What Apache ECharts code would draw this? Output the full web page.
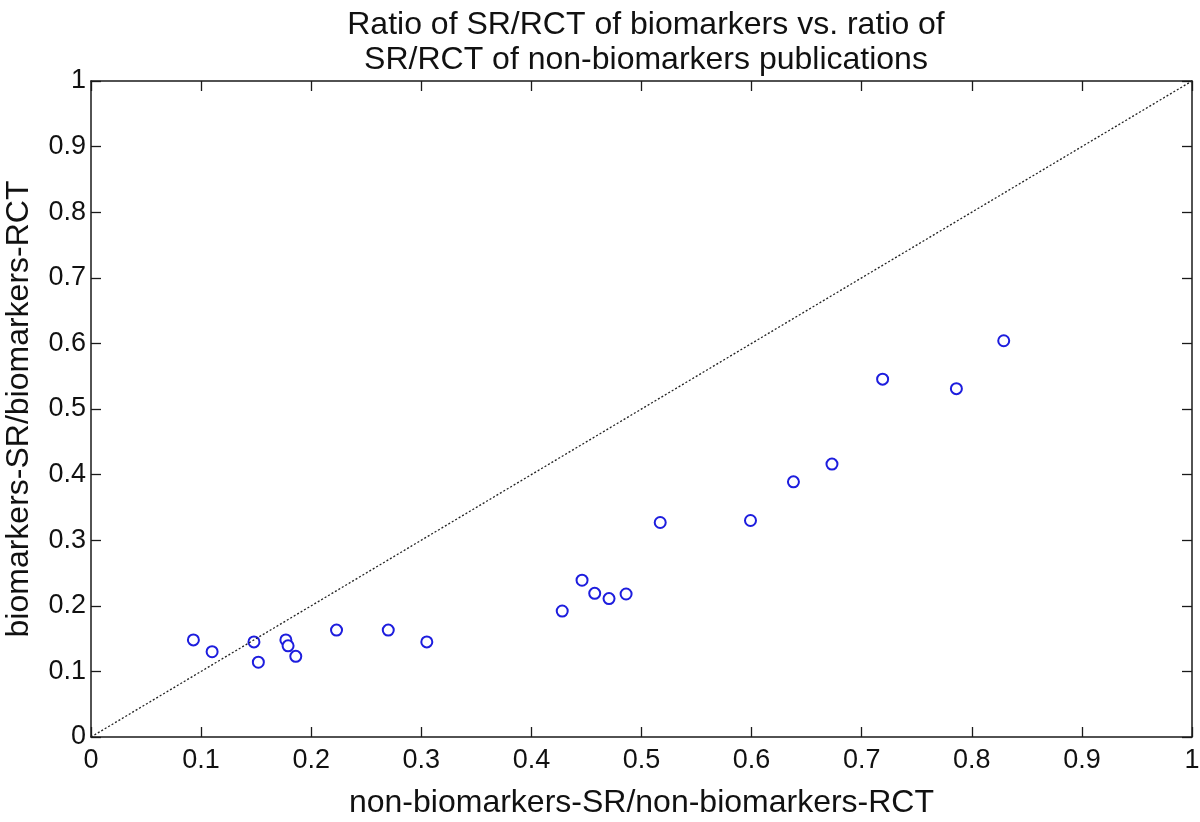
<!DOCTYPE html>
<html>
<head>
<meta charset="utf-8">
<script src="https://cdn.jsdelivr.net/npm/echarts@6/dist/echarts.min.js"></script>
<style>
html,body{margin:0;padding:0;background:#fff;}
#c{width:1200px;height:822px;}
</style>
</head>
<body>
<div id="c"></div>
<script>
// Data
const titleLines = ['Ratio of SR/RCT of biomarkers vs. ratio of', 'SR/RCT of non-biomarkers publications'];
const xAxisName = 'non-biomarkers-SR/non-biomarkers-RCT';
const yAxisName = 'biomarkers-SR/biomarkers-RCT';
const xValues = [0.093, 0.110, 0.148, 0.152, 0.177, 0.179, 0.186, 0.223, 0.270, 0.305,
                 0.428, 0.446, 0.4575, 0.4705, 0.486, 0.517, 0.599, 0.638, 0.673, 0.719, 0.786, 0.829];
const yValues = [0.148, 0.130, 0.145, 0.114, 0.148, 0.139, 0.123, 0.163, 0.163, 0.145,
                 0.192, 0.239, 0.219, 0.211, 0.218, 0.327, 0.330, 0.389, 0.416, 0.5455, 0.531, 0.604];
const diagonal = [[0, 0], [1, 1]];
const tickLabels = ['0', '0.1', '0.2', '0.3', '0.4', '0.5', '0.6', '0.7', '0.8', '0.9', '1'];

const FONT = '"Liberation Sans", Arial, Helvetica, sans-serif';
const points = xValues.map((x, i) => [x, yValues[i]]);
const fmt = v => tickLabels[Math.round(v * 10)];

const axisLine = { show: true, onZero: false, lineStyle: { color: '#1a1a1a', width: 1.5 } };
const tick = { show: true, inside: true, length: 10, lineStyle: { color: '#1a1a1a', width: 1.3 } };

const chart = echarts.init(document.getElementById('c'), null, { renderer: 'canvas' });
chart.setOption({
  backgroundColor: '#ffffff',
  animation: false,
  title: {
    text: titleLines.join('\n'),
    left: 641, top: 3, textAlign: 'center',
    textStyle: { fontFamily: FONT, fontSize: 32, fontWeight: 'normal', color: '#111', lineHeight: 35 }
  },
  grid: { left: 91, right: 8, top: 81, bottom: 85, containLabel: false, outerBoundsMode: 'none' },
  xAxis: [{
    type: 'value', min: 0, max: 1, interval: 0.1, position: 'bottom',
    name: xAxisName, nameLocation: 'middle', nameGap: 50,
    nameTextStyle: { fontFamily: FONT, fontSize: 32, color: '#111' },
    axisLine, axisTick: tick, splitLine: { show: false },
    axisLabel: { fontFamily: FONT, fontSize: 27, color: '#111', margin: 10, formatter: fmt }
  }, {
    type: 'value', min: 0, max: 1, interval: 0.1, position: 'top',
    axisLine, axisTick: tick, splitLine: { show: false }, axisLabel: { show: false }
  }],
  yAxis: [{
    type: 'value', min: 0, max: 1, interval: 0.1, position: 'left',
    name: yAxisName, nameLocation: 'middle', nameGap: 56, nameRotate: 90,
    nameTextStyle: { fontFamily: FONT, fontSize: 32, color: '#111' },
    axisLine, axisTick: tick, splitLine: { show: false },
    axisLabel: { fontFamily: FONT, fontSize: 27, color: '#111', margin: 5, formatter: fmt }
  }, {
    type: 'value', min: 0, max: 1, interval: 0.1, position: 'right',
    axisLine, axisTick: tick, splitLine: { show: false }, axisLabel: { show: false }
  }],
  series: [{
    type: 'line', data: diagonal, symbol: 'none', silent: true,
    lineStyle: { color: '#222', width: 1.3, type: [2, 2] }
  }, {
    type: 'scatter', data: points, symbol: 'emptyCircle', symbolSize: 11,
    itemStyle: { color: '#1d1dde', borderWidth: 1.6, opacity: 1 }
  }]
});
</script>
</body>
</html>
